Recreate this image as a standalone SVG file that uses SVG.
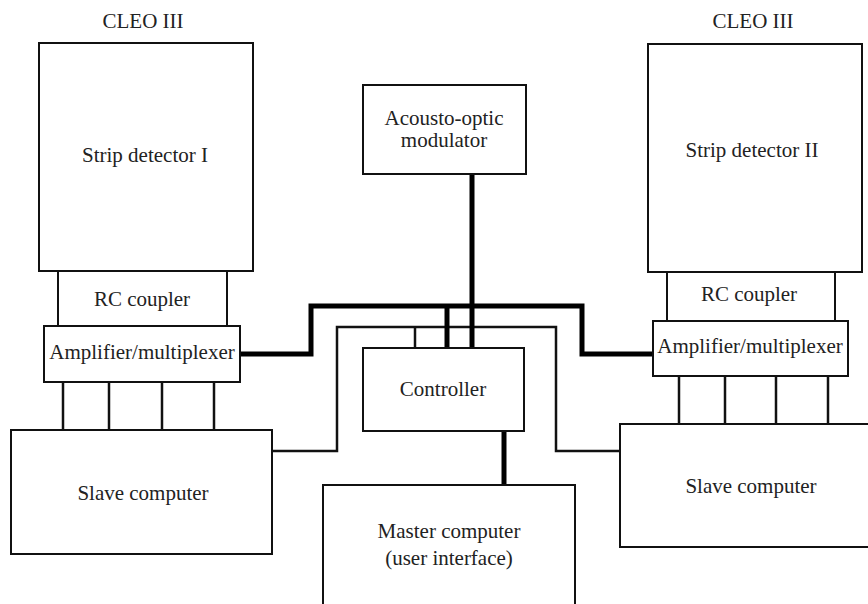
<svg xmlns="http://www.w3.org/2000/svg" width="868" height="604" viewBox="0 0 868 604">
<style>
.box{fill:#fff;stroke:#111;stroke-width:2}
text{font-family:'Liberation Serif','DejaVu Serif',serif;font-size:21px;fill:#222;text-anchor:middle}
.thin{fill:none;stroke:#111;stroke-width:2.5}
.thick{fill:none;stroke:#000;stroke-width:5}
</style>
<rect width="868" height="604" fill="#fff"/>
<g id="connectors">
<line class="thin" x1="63" y1="382" x2="63" y2="430"/>
<line class="thin" x1="109" y1="382" x2="109" y2="430"/>
<line class="thin" x1="162" y1="382" x2="162" y2="430"/>
<line class="thin" x1="214" y1="382" x2="214" y2="430"/>
<line class="thin" x1="679" y1="376" x2="679" y2="424"/>
<line class="thin" x1="725" y1="376" x2="725" y2="424"/>
<line class="thin" x1="776" y1="376" x2="776" y2="424"/>
<line class="thin" x1="828" y1="376" x2="828" y2="424"/>
<polyline class="thin" points="272,451 337,451 337,327 556,327 556,451 620,451"/>
<line class="thin" x1="415" y1="327" x2="415" y2="348"/>
<polyline class="thick" points="240,354 311,354 311,306 582,306 582,354 653,354"/>
<line class="thick" x1="447" y1="306" x2="447" y2="348"/>
<line class="thick" x1="472" y1="174" x2="472" y2="348"/>
<line class="thick" x1="504" y1="431" x2="504" y2="485"/>
</g>
<g id="cleo-left"><text x="143" y="28" font-family="Liberation Serif, serif">CLEO III</text></g>
<g id="cleo-right"><text x="753" y="28" font-family="Liberation Serif, serif">CLEO III</text></g>
<g id="strip1"><rect class="box" x="39" y="43" width="214" height="228"/><text x="145" y="162">Strip detector I</text></g>
<g id="rc1"><rect class="box" x="58" y="271" width="169" height="55"/><text x="142" y="306">RC coupler</text></g>
<g id="amp1"><rect class="box" x="44" y="326" width="196" height="56"/><text x="142" y="359">Amplifier/multiplexer</text></g>
<g id="slave1"><rect class="box" x="11" y="430" width="261" height="124"/><text x="143" y="500">Slave computer</text></g>
<g id="aom"><rect class="box" x="363" y="85" width="163" height="89"/><text x="444" y="125">Acousto-optic</text><text x="444" y="147">modulator</text></g>
<g id="controller"><rect class="box" x="363" y="348" width="161" height="83"/><text x="443" y="396">Controller</text></g>
<g id="master"><rect class="box" x="323" y="485" width="252" height="125"/><text x="449" y="538">Master computer</text><text x="449" y="565">(user interface)</text></g>
<g id="strip2"><rect class="box" x="648" y="44" width="214" height="228"/><text x="752" y="157">Strip detector II</text></g>
<g id="rc2"><rect class="box" x="667" y="272" width="168" height="49"/><text x="749" y="301">RC coupler</text></g>
<g id="amp2"><rect class="box" x="653" y="321" width="195" height="55"/><text x="750" y="353">Amplifier/multiplexer</text></g>
<g id="slave2"><rect class="box" x="620" y="424" width="252" height="123"/><text x="751" y="493">Slave computer</text></g>
</svg>
